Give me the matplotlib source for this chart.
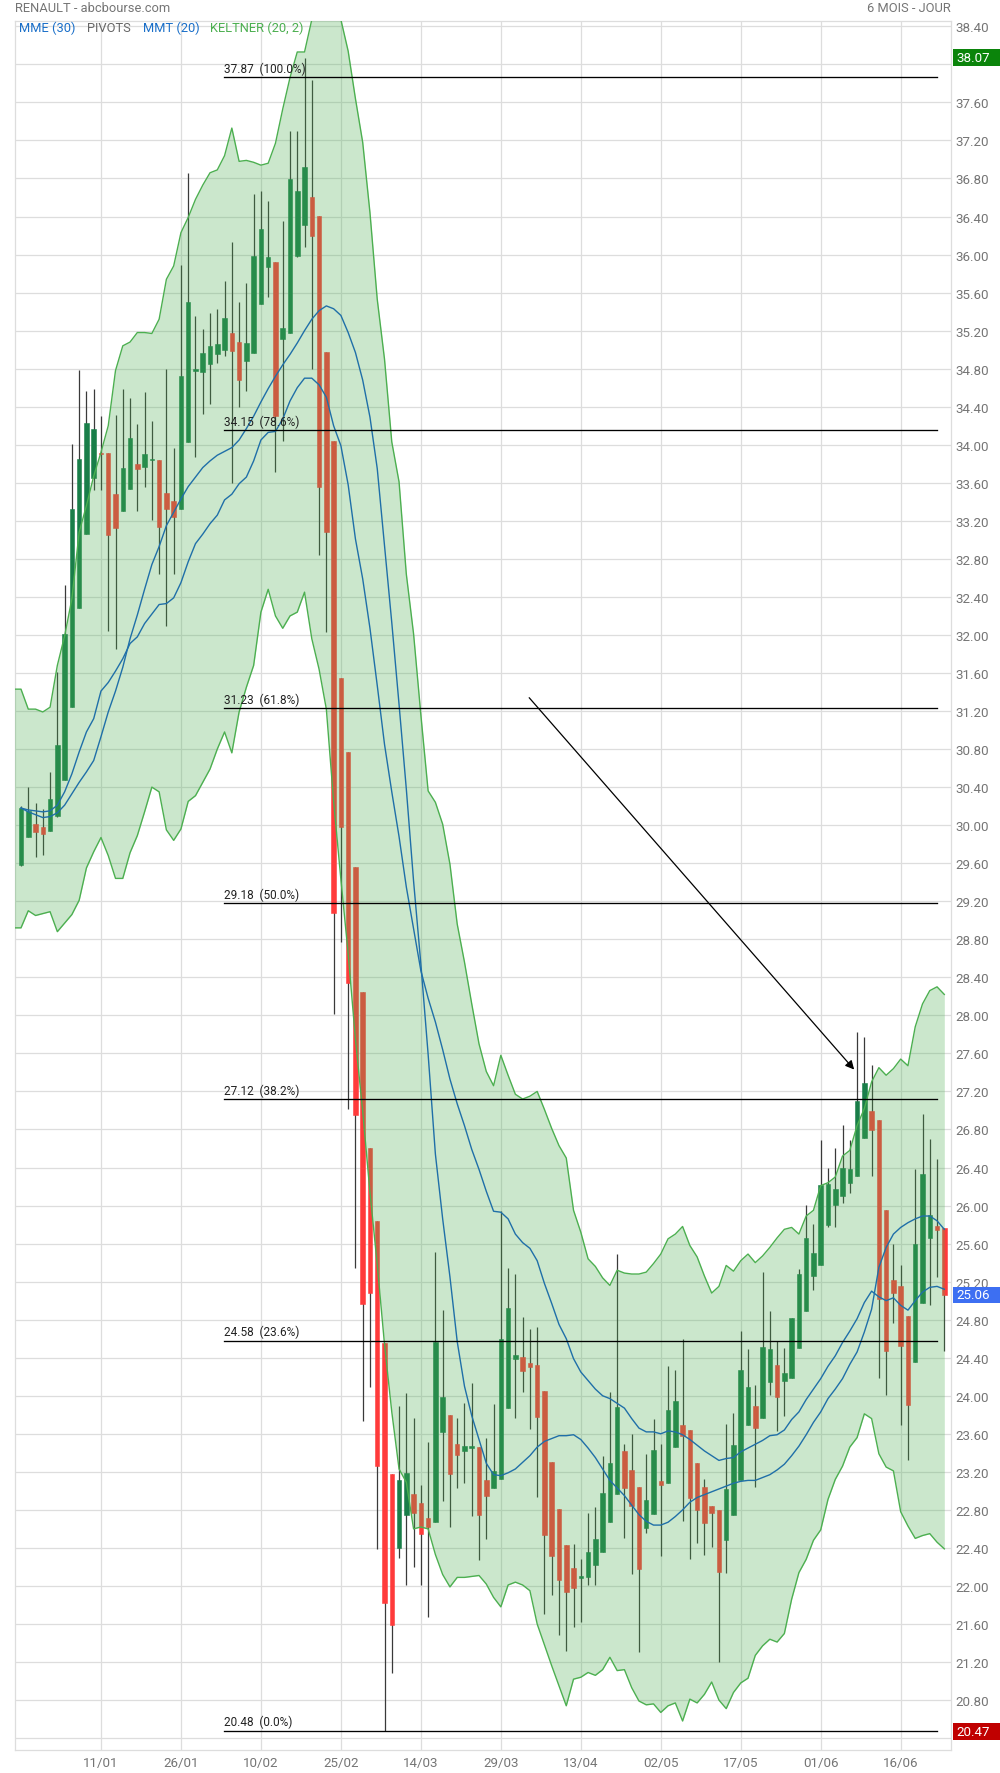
import numpy as np
import matplotlib
matplotlib.use("Agg")
import matplotlib.pyplot as plt
from matplotlib.patches import Rectangle
from matplotlib.transforms import blended_transform_factory

plt.rcParams['font.family'] = ['Roboto', 'DejaVu Sans']

# daily candles, 27/12/2021 -> 24/06/2022 (index = trading day)
opens = [29.58, 29.88, 30.01, 29.98, 29.94, 30.10, 30.47, 31.24, 32.28, 33.06,
         33.65, 33.91, 33.91, 33.48, 33.30, 33.53, 33.80, 33.77, 33.84, 33.84,
         33.49, 33.41, 33.32, 34.03, 34.78, 34.77, 34.85, 34.95, 35.00, 35.17,
         35.08, 34.88, 34.97, 35.48, 35.87, 35.92, 35.11, 35.17, 35.98, 36.31,
         36.61, 36.41, 34.98, 34.04, 31.55, 30.77, 29.56, 28.25, 26.61, 25.84,
         24.55, 23.18, 22.40, 22.75, 22.97, 22.87, 22.71, 22.67, 23.62, 23.80,
         23.49, 23.42, 23.45, 23.46, 23.11, 23.03, 23.12, 23.87, 24.39, 24.41,
         24.34, 24.32, 24.05, 23.30, 22.81, 22.43, 22.19, 22.08, 22.09, 22.22,
         22.36, 22.67, 22.97, 23.42, 23.22, 23.04, 22.61, 22.76, 23.10, 23.08,
         23.46, 23.69, 23.64, 23.29, 23.04, 22.84, 22.80, 22.48, 22.75, 23.11,
         23.69, 23.89, 23.77, 24.14, 24.32, 24.15, 24.19, 24.50, 24.89, 25.26,
         25.38, 25.80, 26.01, 26.10, 26.24, 26.31, 26.71, 26.99, 26.90, 25.95,
         25.22, 25.15, 24.84, 24.36, 24.98, 25.66, 25.78, 25.76]
highs = [30.20, 30.40, 30.23, 30.17, 30.56, 31.61, 32.53, 34.01, 34.79, 34.57,
         34.59, 34.30, 33.91, 34.31, 34.59, 34.49, 34.22, 34.55, 34.25, 33.84,
         34.80, 33.97, 35.89, 36.86, 35.35, 35.22, 35.39, 35.43, 35.72, 36.13,
         35.50, 35.70, 36.64, 36.67, 36.56, 35.92, 36.35, 37.30, 37.30, 38.07,
         37.84, 36.41, 34.98, 34.04, 31.55, 30.77, 29.56, 28.25, 26.61, 25.84,
         24.55, 23.18, 23.89, 24.03, 23.77, 23.06, 23.51, 25.51, 24.90, 23.80,
         23.77, 23.92, 24.13, 23.46, 23.56, 23.91, 25.94, 25.34, 25.28, 24.83,
         24.70, 24.72, 24.05, 23.30, 22.81, 22.43, 22.44, 22.28, 22.77, 22.83,
         23.37, 24.04, 25.49, 23.49, 23.60, 23.04, 23.39, 23.76, 23.49, 24.31,
         24.27, 24.60, 23.64, 23.29, 23.12, 22.84, 22.80, 23.70, 23.82, 24.68,
         24.49, 24.11, 25.30, 24.89, 24.58, 24.50, 24.82, 25.33, 26.01, 25.81,
         26.69, 26.40, 26.60, 26.85, 26.69, 27.83, 27.77, 27.48, 26.90, 25.95,
         25.60, 25.37, 24.84, 26.38, 26.96, 26.70, 26.49, 25.76]
lows = [29.57, 29.88, 29.67, 29.69, 29.94, 30.09, 30.47, 31.24, 32.28, 33.06,
        33.52, 33.52, 32.04, 31.85, 33.30, 33.53, 33.30, 33.56, 33.21, 32.64,
        32.09, 32.64, 33.32, 34.03, 33.87, 34.32, 34.43, 34.86, 34.93, 33.60,
        34.40, 34.56, 34.97, 35.48, 35.55, 33.71, 34.04, 35.17, 35.97, 36.08,
        34.80, 32.84, 32.03, 28.01, 28.77, 27.02, 25.34, 23.73, 24.09, 22.39,
        20.47, 21.08, 22.29, 22.01, 22.20, 22.01, 21.67, 22.67, 22.89, 22.62,
        23.03, 23.08, 22.74, 22.27, 22.49, 23.03, 23.12, 23.87, 23.77, 24.04,
        23.65, 22.94, 21.71, 21.91, 21.48, 21.32, 21.57, 21.62, 22.01, 22.01,
        22.36, 22.67, 22.97, 22.50, 22.13, 21.31, 22.56, 22.76, 22.32, 23.08,
        23.46, 22.68, 22.28, 22.45, 22.33, 22.41, 21.20, 22.14, 22.75, 23.11,
        23.69, 23.04, 23.77, 24.01, 23.63, 23.79, 24.19, 24.50, 24.89, 25.11,
        25.38, 25.77, 25.77, 26.03, 26.13, 26.31, 26.71, 26.31, 24.19, 24.01,
        24.76, 23.69, 23.32, 24.36, 24.98, 24.95, 25.25, 24.47]
closes = [30.18, 30.15, 29.93, 29.91, 30.28, 30.84, 32.01, 33.32, 33.85, 34.23,
          34.17, 33.90, 33.05, 33.12, 33.76, 34.07, 33.75, 33.90, 33.85, 33.14,
          33.32, 33.24, 34.72, 35.50, 34.80, 34.96, 35.04, 35.06, 35.33, 34.99,
          34.68, 35.07, 35.98, 36.27, 35.97, 34.30, 35.23, 36.79, 36.67, 36.92,
          36.20, 33.56, 33.08, 29.08, 29.98, 28.34, 26.95, 24.96, 25.08, 23.26,
          21.82, 21.59, 23.11, 23.19, 22.77, 22.55, 22.62, 24.56, 23.99, 23.18,
          23.38, 23.47, 23.47, 22.75, 22.95, 23.21, 24.60, 24.92, 24.43, 24.26,
          24.30, 23.78, 22.54, 22.31, 22.06, 21.94, 21.98, 22.10, 22.36, 22.49,
          22.98, 23.29, 23.88, 23.03, 22.84, 22.18, 22.90, 23.43, 23.06, 23.85,
          23.94, 23.58, 22.93, 22.80, 22.66, 22.77, 22.15, 23.02, 23.48, 24.27,
          24.09, 23.66, 24.51, 24.49, 23.99, 24.24, 24.82, 25.28, 25.66, 25.50,
          26.22, 26.23, 26.17, 26.40, 26.38, 27.10, 27.29, 26.79, 25.02, 24.47,
          25.08, 24.52, 23.90, 25.60, 26.33, 25.90, 25.74, 25.06]

# keltner band starts one session before the first visible candle
band_start = -1
keltner_upper = [31.43, 31.43, 31.22, 31.22, 31.19, 31.24, 31.68, 31.99, 32.38, 33.08, 33.36,
                 33.67, 33.92, 34.20, 34.78, 35.04, 35.08, 35.18, 35.18, 35.17, 35.32,
                 35.74, 35.88, 36.23, 36.39, 36.58, 36.73, 36.86, 36.89, 37.04, 37.33,
                 36.98, 36.99, 36.97, 36.94, 36.96, 37.17, 37.53, 37.86, 38.13, 38.13,
                 38.47, 38.75, 38.85, 38.70, 38.47, 38.14, 37.64, 37.18, 36.44, 35.53,
                 34.90, 34.03, 33.61, 32.64, 32.01, 31.16, 30.36, 30.24, 30.01, 29.59,
                 28.96, 28.56, 28.12, 27.70, 27.41, 27.26, 27.58, 27.37, 27.17, 27.12,
                 27.15, 27.20, 27.01, 26.81, 26.63, 26.50, 25.95, 25.72, 25.44, 25.36,
                 25.24, 25.16, 25.32, 25.29, 25.28, 25.28, 25.30, 25.39, 25.49, 25.65,
                 25.70, 25.78, 25.58, 25.46, 25.26, 25.08, 25.15, 25.37, 25.31, 25.42,
                 25.49, 25.40, 25.47, 25.56, 25.66, 25.75, 25.77, 25.70, 25.89, 25.95,
                 26.21, 26.24, 26.30, 26.52, 26.58, 26.84, 27.02, 27.30, 27.45, 27.37,
                 27.44, 27.54, 27.47, 27.88, 28.12, 28.26, 28.30, 28.22]
keltner_lower = [28.92, 28.92, 29.10, 29.05, 29.07, 29.09, 28.88, 28.97, 29.06, 29.21, 29.55,
                 29.72, 29.87, 29.68, 29.44, 29.44, 29.71, 29.89, 30.14, 30.40, 30.35,
                 29.95, 29.84, 29.96, 30.25, 30.31, 30.45, 30.59, 30.80, 30.98, 30.76,
                 31.19, 31.45, 31.68, 32.24, 32.48, 32.20, 32.07, 32.20, 32.24, 32.45,
                 31.96, 31.64, 31.22, 30.25, 29.43, 28.65, 27.75, 26.99, 26.14, 25.38,
                 24.54, 23.83, 23.23, 23.09, 22.60, 22.62, 22.60, 22.33, 22.12, 21.99,
                 22.09, 22.09, 22.10, 22.11, 22.02, 21.88, 21.78, 22.01, 22.04, 22.01,
                 21.95, 21.60, 21.38, 21.16, 20.95, 20.74, 21.02, 21.04, 21.09, 21.06,
                 21.12, 21.25, 21.11, 21.12, 20.93, 20.79, 20.75, 20.76, 20.67, 20.74,
                 20.77, 20.58, 20.81, 20.77, 20.86, 20.99, 20.80, 20.71, 20.88, 20.98,
                 21.03, 21.27, 21.37, 21.44, 21.41, 21.50, 21.86, 22.14, 22.28, 22.48,
                 22.59, 22.91, 23.12, 23.26, 23.46, 23.56, 23.81, 23.76, 23.39, 23.25,
                 23.21, 22.78, 22.63, 22.50, 22.53, 22.55, 22.46, 22.39]
mme30 = [30.18, 30.16, 30.15, 30.14, 30.15, 30.21, 30.35, 30.54, 30.77, 30.98,
         31.12, 31.41, 31.50, 31.62, 31.75, 31.91, 31.98, 32.12, 32.22, 32.32,
         32.33, 32.39, 32.55, 32.77, 32.96, 33.06, 33.17, 33.26, 33.42, 33.48,
         33.59, 33.66, 33.83, 34.05, 34.13, 34.14, 34.27, 34.46, 34.60, 34.70,
         34.70, 34.63, 34.50, 34.20, 33.99, 33.58, 33.01, 32.59, 32.07, 31.47,
         30.85, 30.35, 29.88, 29.35, 28.91, 28.47, 28.18, 27.93, 27.64, 27.33,
         27.07, 26.84, 26.59, 26.38, 26.15, 25.94, 25.93, 25.86, 25.70, 25.61,
         25.55, 25.42, 25.18, 24.97, 24.75, 24.60, 24.39, 24.25, 24.16, 24.07,
         24.00, 23.97, 23.92, 23.87, 23.76, 23.66, 23.62, 23.62, 23.60, 23.63,
         23.62, 23.59, 23.54, 23.48, 23.42, 23.37, 23.32, 23.34, 23.35, 23.41,
         23.45, 23.49, 23.53, 23.58, 23.59, 23.64, 23.75, 23.83, 23.96, 24.07,
         24.18, 24.31, 24.42, 24.56, 24.68, 24.81, 24.98, 25.10, 25.04, 25.00,
         25.03, 24.95, 24.90, 25.00, 25.09, 25.14, 25.15, 25.12]
mmt20 = [30.18, 30.14, 30.11, 30.08, 30.09, 30.13, 30.21, 30.33, 30.45, 30.56,
         30.68, 30.93, 31.19, 31.41, 31.66, 31.96, 32.21, 32.48, 32.74, 32.93,
         33.15, 33.29, 33.43, 33.56, 33.66, 33.76, 33.83, 33.89, 33.93, 33.97,
         34.05, 34.17, 34.30, 34.45, 34.59, 34.72, 34.84, 34.95, 35.07, 35.20,
         35.32, 35.41, 35.46, 35.43, 35.36, 35.18, 34.97, 34.68, 34.29, 33.75,
         32.94, 32.13, 31.27, 30.38, 29.41, 28.54, 27.59, 26.54, 25.86, 25.25,
         24.57, 24.10, 23.79, 23.54, 23.29, 23.17, 23.16, 23.19, 23.23, 23.30,
         23.37, 23.46, 23.52, 23.55, 23.58, 23.58, 23.59, 23.54, 23.45, 23.35,
         23.23, 23.11, 23.03, 22.95, 22.85, 22.75, 22.68, 22.64, 22.64, 22.67,
         22.73, 22.80, 22.88, 22.93, 22.96, 22.99, 23.02, 23.05, 23.08, 23.10,
         23.11, 23.11, 23.14, 23.17, 23.22, 23.28, 23.37, 23.47, 23.59, 23.72,
         23.83, 23.97, 24.07, 24.18, 24.33, 24.46, 24.67, 24.91, 25.35, 25.56,
         25.70, 25.77, 25.82, 25.86, 25.89, 25.89, 25.84, 25.75]

date_labels = ["11/01", "26/01", "10/02", "25/02", "14/03", "29/03",
               "13/04", "02/05", "17/05", "01/06", "16/06"]
date_positions = [11, 22, 33, 44, 55, 66, 77, 88, 99, 110, 121]

fib_values = [37.87, 34.15, 31.23, 29.18, 27.12, 24.58, 20.48]
fib_pcts = ["100.0%", "78.6%", "61.8%", "50.0%", "38.2%", "23.6%", "0.0%"]
fib_start, fib_end = 27.9, 126.0

arrow_from = (69.9, 31.34)
arrow_to = (114.6, 27.43)

max_label, last_label, min_label = 38.07, 25.06, 20.47

# colours
up_col = '#197e49'
down_col = '#ff3b3b'
wick_col = '#3a3a3a'
band_col = '#4caf50'
ma_col = '#1f6fa8'
grid_col = '#dddddd'
text_col = '#757575'

fig = plt.figure(figsize=(10, 17.74), dpi=100)
ax = fig.add_axes([0.015, 23 / 1774, 0.936, 1729.3 / 1774])

x = np.arange(len(closes))
xb = np.arange(band_start, band_start + len(keltner_upper))
o = np.array(opens)
c = np.array(closes)
h = np.array(highs)
l = np.array(lows)

# candles
ax.vlines(x, l, h, color=wick_col, lw=0.9, zorder=2)
up = c >= o
body_w = 0.62
ax.bar(x[up], (c - o)[up], bottom=o[up], width=body_w, color=up_col,
       edgecolor=up_col, linewidth=0.4, zorder=3)
ax.bar(x[~up], (o - c)[~up], bottom=c[~up], width=body_w, color=down_col,
       edgecolor=down_col, linewidth=0.4, zorder=3)

# keltner band (drawn over the candles, like the original)
ax.fill_between(xb, keltner_lower, keltner_upper, color=band_col, alpha=0.29,
                linewidth=0, zorder=4)
ax.plot(xb, keltner_upper, color=band_col, lw=1.0, zorder=5)
ax.plot(xb, keltner_lower, color=band_col, lw=1.0, zorder=5)

# moving averages
ax.plot(x, mme30, color=ma_col, lw=1.0, zorder=6)
ax.plot(x, mmt20, color=ma_col, lw=1.0, zorder=6)

# fibonacci retracement
for val, pct in zip(fib_values, fib_pcts):
    ax.plot([fib_start, fib_end], [val, val], color='black', lw=0.95, zorder=7)
    ax.annotate('{:.2f}  ({})'.format(val, pct), xy=(fib_start, val),
                xytext=(0, 1.5), textcoords='offset points', fontsize=8.5,
                color='#222222', ha='left', va='bottom', zorder=7)

ax.annotate('', xy=arrow_to, xytext=arrow_from,
            arrowprops=dict(arrowstyle='-|>', color='black', lw=0.9,
                            mutation_scale=13, shrinkA=0, shrinkB=0), zorder=8)

# axes
ax.set_xlim(-0.825, 127.92)
ax.set_ylim(20.275, 38.459)
yt = np.round(np.arange(20.40, 38.41, 0.40), 2)
# labels hidden behind the highlighted boxes are left blank
hidden = [38.00, 20.40]
ax.set_yticks(yt)
ax.set_yticklabels(['' if np.isclose(v, hidden).any() else '{:.2f}'.format(v) for v in yt])
ax.yaxis.tick_right()
ax.set_xticks(date_positions)
ax.set_xticklabels(date_labels)
ax.tick_params(axis='both', length=0, labelsize=9.6, colors=text_col)
ax.tick_params(axis='y', pad=3.5)
ax.tick_params(axis='x', pad=4.5)
ax.grid(True, color=grid_col, lw=0.9, zorder=0)
ax.set_axisbelow(True)
for sp in ax.spines.values():
    sp.set_color(grid_col)
    sp.set_linewidth(0.9)

# highlighted price labels on the right axis
trans = blended_transform_factory(ax.transAxes, ax.transData)
box_h = 16.5 / 95.1
for val, col in [(max_label, '#0b840b'), (last_label, '#3d6ff2'), (min_label, '#c00000')]:
    ax.add_patch(Rectangle((1.0025, val - box_h / 2), 0.0524, box_h, transform=trans,
                           facecolor=col, edgecolor='none', clip_on=False, zorder=9))
    ax.text(1.0055, val, '{:.2f}'.format(val), transform=trans, color='white',
            fontsize=9.6, va='center', ha='left', zorder=10, clip_on=False)

# header texts
fig.text(0.015, 1 - 8.5 / 1774, 'RENAULT - abcbourse.com', color=text_col,
         fontsize=9.3, va='center', ha='left')
fig.text(0.951, 1 - 8.5 / 1774, '6 MOIS - JOUR', color=text_col,
         fontsize=9.3, va='center', ha='right')
legend_items = [('MME (30)', '#1a6fc9', 0.0193), ('PIVOTS', '#666666', 0.0867),
                ('MMT (20)', '#1a6fc9', 0.1427), ('KELTNER (20, 2)', band_col, 0.210)]
for txt, col, xpos in legend_items:
    fig.text(xpos, 1 - 28.7 / 1774, txt, color=col, fontsize=9.3,
             va='center', ha='left')

fig.savefig('out.png', dpi=100)
